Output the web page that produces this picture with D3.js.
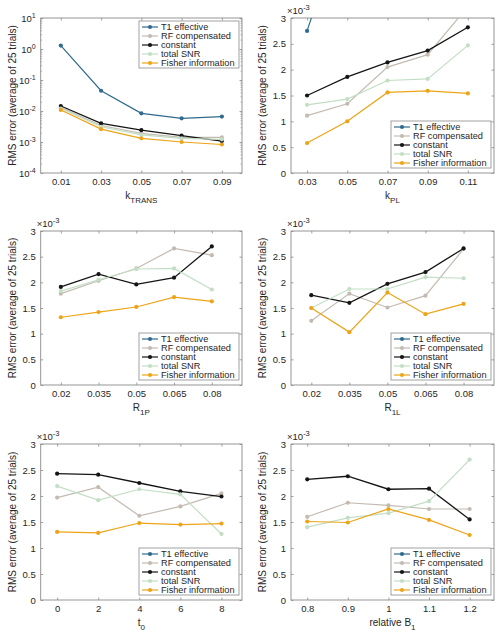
<!DOCTYPE html>
<html><head><meta charset="utf-8">
<script src="https://cdn.jsdelivr.net/npm/d3@7"></script>
<style>
body{margin:0;background:#fff}
svg{display:block}
text{font-family:"Liberation Sans",Arial,Helvetica,sans-serif;fill:#262626}
</style>
</head><body>
<svg id="chart" width="504" height="635"></svg>
<script>
// ---------- data ----------
const seriesNames = ["T1 effective","RF compensated","constant","total SNR","Fisher information"];
const seriesColors = ["#2f6b8e","#c3bbb1","#151515","#c3dec5","#eda418"];

// panel 1: kTRANS (absolute RMS error, log scale)
const kTransValues = [0.01,0.03,0.05,0.07,0.09];
const kTransTickLabels = ["0.01","0.03","0.05","0.07","0.09"];
const kTransT1     = [1.29,0.045,0.0084,0.0058,0.0066];
const kTransRF     = [0.013,0.0034,0.0019,0.0014,0.0014];
const kTransConst  = [0.0145,0.0040,0.0024,0.0016,0.00107];
const kTransSNR    = [0.012,0.0031,0.0017,0.0013,0.00122];
const kTransFisher = [0.0108,0.0026,0.00131,0.0010,0.00083];
const logTicks = [1e-4,1e-3,1e-2,1e-1,1e0,1e1];

// panels 2-6: RMS error in units of 1e-3
const linTicks = [0,0.5,1,1.5,2,2.5,3];
const linTickLabels = ["0","0.5","1","1.5","2","2.5","3"];

const kPLValues = [0.03,0.05,0.07,0.09,0.11];
const kPLTickLabels = ["0.03","0.05","0.07","0.09","0.11"];
const kPLT1     = [2.75,5.1,7.5,9.0,11.0];
const kPLRF     = [1.11,1.34,2.05,2.29,3.22];
const kPLConst  = [1.50,1.86,2.14,2.37,2.82];
const kPLSNR    = [1.32,1.43,1.79,1.82,2.47];
const kPLFisher = [0.58,1.00,1.56,1.59,1.54];

const R1PValues = [0.02,0.035,0.05,0.065,0.08];
const R1PTickLabels = ["0.02","0.035","0.05","0.065","0.08"];
const R1PT1     = [8.2,8.4,8.5,8.7,8.9];
const R1PRF     = [1.78,2.03,2.27,2.66,2.53];
const R1PConst  = [1.91,2.16,1.96,2.09,2.70];
const R1PSNR    = [1.83,2.05,2.26,2.27,1.86];
const R1PFisher = [1.32,1.42,1.52,1.71,1.63];

const R1LValues = [0.02,0.035,0.05,0.065,0.08];
const R1LTickLabels = ["0.02","0.035","0.05","0.065","0.08"];
const R1LT1     = [8.0,8.3,8.5,8.8,9.1];
const R1LRF     = [1.25,1.78,1.51,1.74,2.65];
const R1LConst  = [1.75,1.60,1.97,2.20,2.66];
const R1LSNR    = [1.50,1.87,1.87,2.10,2.08];
const R1LFisher = [1.50,1.03,1.80,1.38,1.58];

const t0Values = [0,2,4,6,8];
const t0TickLabels = ["0","2","4","6","8"];
const t0T1     = [8.6,8.5,8.5,8.4,8.6];
const t0RF     = [1.97,2.17,1.62,1.80,2.05];
const t0Const  = [2.43,2.41,2.25,2.09,1.99];
const t0SNR    = [2.19,1.92,2.13,2.03,1.27];
const t0Fisher = [1.31,1.29,1.48,1.45,1.47];

const B1Values = [0.8,0.9,1,1.1,1.2];
const B1TickLabels = ["0.8","0.9","1","1.1","1.2"];
const B1T1     = [9.5,8.8,8.5,8.9,9.6];
const B1RF     = [1.60,1.87,1.82,1.75,1.75];
const B1Const  = [2.32,2.38,2.13,2.14,1.55];
const B1SNR    = [1.40,1.58,1.67,1.90,2.70];
const B1Fisher = [1.51,1.49,1.75,1.54,1.25];

// ---------- layout ----------
const colX = [[40.7,242],[291,494]];
const rowY = [[18,173],[231,385],[444,600]];

const panels = [
  {col:0,row:0,x:kTransValues,xDomain:[0,0.1],xLabels:kTransTickLabels,xlabel:["k","TRANS"],log:true,
   series:[kTransT1,kTransRF,kTransConst,kTransSNR,kTransFisher],legendTop:true},
  {col:1,row:0,x:kPLValues,xDomain:[0.022,0.123],xLabels:kPLTickLabels,xlabel:["k","PL"],
   series:[kPLT1,kPLRF,kPLConst,kPLSNR,kPLFisher]},
  {col:0,row:1,x:R1PValues,xDomain:[0.012,0.092],xLabels:R1PTickLabels,xlabel:["R","1P"],
   series:[R1PT1,R1PRF,R1PConst,R1PSNR,R1PFisher]},
  {col:1,row:1,x:R1LValues,xDomain:[0.012,0.092],xLabels:R1LTickLabels,xlabel:["R","1L"],
   series:[R1LT1,R1LRF,R1LConst,R1LSNR,R1LFisher]},
  {col:0,row:2,x:t0Values,xDomain:[-0.8,9.0],xLabels:t0TickLabels,xlabel:["t","0"],
   series:[t0T1,t0RF,t0Const,t0SNR,t0Fisher]},
  {col:1,row:2,x:B1Values,xDomain:[0.76,1.26],xLabels:B1TickLabels,xlabel:["relative B","1"],
   series:[B1T1,B1RF,B1Const,B1SNR,B1Fisher]}
];

const svg = d3.select("#chart");
const axisColor = "#8a8a8a";
const tickLen = 2.5;

panels.forEach((p,pi)=>{
  const [x0,x1] = colX[p.col];
  const [y0,y1] = rowY[p.row];
  const w = x1-x0, h = y1-y0;
  const g = svg.append("g").attr("transform",`translate(${x0},${y0})`);
  const xs = d3.scaleLinear().domain(p.xDomain).range([0,w]);
  const ys = p.log ? d3.scaleLog().domain([1e-4,1e1]).range([h,0])
                   : d3.scaleLinear().domain([0,3]).range([h,0]);

  // axes
  const xb = d3.axisBottom(xs).tickValues(p.x).tickFormat((d,i)=>p.xLabels[i])
               .tickSizeInner(-tickLen).tickSizeOuter(0).tickPadding(5);
  const xt = d3.axisTop(xs).tickValues(p.x).tickFormat("").tickSizeInner(-tickLen).tickSizeOuter(0);
  const yTicks = p.log ? logTicks : linTicks;
  const yl = d3.axisLeft(ys).tickValues(yTicks).tickSizeInner(-tickLen).tickSizeOuter(0).tickPadding(5)
               .tickFormat(p.log ? ()=> "" : (d,i)=>linTickLabels[i]);
  const yr = d3.axisRight(ys).tickValues(yTicks).tickFormat("").tickSizeInner(-tickLen).tickSizeOuter(0);

  const gxb = g.append("g").attr("transform",`translate(0,${h})`).call(xb);
  const gxt = g.append("g").call(xt);
  const gyl = g.append("g").call(yl);
  const gyr = g.append("g").attr("transform",`translate(${w},0)`).call(yr);
  [gxb,gxt,gyl,gyr].forEach(a=>{
    a.select(".domain").remove();
    a.selectAll("line").attr("stroke",axisColor).attr("stroke-width",0.8);
    a.selectAll("text").style("font-size","9.5px").style("font-family","'Liberation Sans',Arial,sans-serif").attr("fill","#262626");
  });

  if(p.log){
    // superscript labels
    gyl.selectAll(".tick text").each(function(d){
      const t = d3.select(this);
      t.text(null);
      t.append("tspan").text("10");
      t.append("tspan").attr("dy","-4").style("font-size","7px").text(String(Math.round(Math.log10(d))));
    });
    // minor ticks
    const minors = [];
    for(let e=-4;e<1;e++) for(let m=2;m<=9;m++) minors.push(m*Math.pow(10,e));
    const ml = d3.axisLeft(ys).tickValues(minors).tickFormat("").tickSizeInner(-1.5).tickSizeOuter(0);
    const mr = d3.axisRight(ys).tickValues(minors).tickFormat("").tickSizeInner(-1.5).tickSizeOuter(0);
    const gml = g.append("g").call(ml);
    const gmr = g.append("g").attr("transform",`translate(${w},0)`).call(mr);
    [gml,gmr].forEach(a=>{a.select(".domain").remove();a.selectAll("line").attr("stroke",axisColor).attr("stroke-width",0.6);});
  } else {
    const ex = g.append("text").attr("x",-4).attr("y",-4).style("font-size","9.5px");
    ex.append("tspan").text("×10");
    ex.append("tspan").attr("dy","-4").style("font-size","7.5px").text("-3");
  }

  // box
  g.append("rect").attr("width",w).attr("height",h).attr("fill","none")
   .attr("stroke",axisColor).attr("stroke-width",0.9);

  // clip
  const cid = "clip"+pi;
  g.append("clipPath").attr("id",cid).append("rect").attr("width",w).attr("height",h);
  const plot = g.append("g").attr("clip-path",`url(#${cid})`);
  const line = d3.line().x((d,i)=>xs(p.x[i])).y(d=>ys(d));
  p.series.forEach((vals,si)=>{
    plot.append("path").datum(vals).attr("d",line).attr("fill","none")
      .attr("stroke",seriesColors[si]).attr("stroke-width",si===2?1.3:1.2);
    plot.selectAll(null).data(vals).enter().append("circle")
      .attr("cx",(d,i)=>xs(p.x[i])).attr("cy",d=>ys(d)).attr("r",2.1)
      .attr("fill",seriesColors[si]);
  });

  // axis labels
  const xlab = g.append("text").attr("x",w/2).attr("y",h+26).attr("text-anchor","middle").style("font-size","10px");
  xlab.append("tspan").text(p.xlabel[0]);
  xlab.append("tspan").attr("dy","3.5").style("font-size","8px").text(p.xlabel[1]);

  g.append("text").attr("transform",`translate(${-25},${h/2}) rotate(-90)`)
   .attr("text-anchor","middle").style("font-size","10px").text("RMS error (average of 25 trials)");

  // legend
  const lw = 100, lh = 47;
  const lx = w - lw - 3;
  const ly = p.legendTop ? 3 : h - lh - 5;
  const lg = g.append("g").attr("transform",`translate(${lx},${ly})`);
  lg.append("rect").attr("width",lw).attr("height",lh).attr("fill","#fff")
    .attr("stroke",axisColor).attr("stroke-width",0.8);
  seriesNames.forEach((name,si)=>{
    const yy = 6 + si*9;
    lg.append("line").attr("x1",3).attr("x2",19).attr("y1",yy).attr("y2",yy)
      .attr("stroke",seriesColors[si]).attr("stroke-width",1.2);
    lg.append("circle").attr("cx",11).attr("cy",yy).attr("r",2.1).attr("fill",seriesColors[si]);
    lg.append("text").attr("x",22).attr("y",yy+3.3).style("font-size","9.2px").text(name);
  });
});
</script>
</body></html>
